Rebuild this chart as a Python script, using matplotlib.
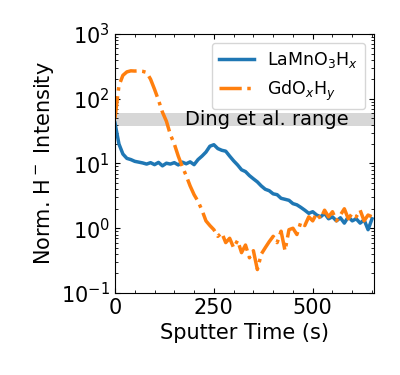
import matplotlib
matplotlib.use("Agg")
import matplotlib.pyplot as plt
from matplotlib.ticker import MultipleLocator, LogLocator

t_la = list(range(0, 660, 10))
la = [42, 20, 14, 12, 11.5, 10.8, 10.5, 10.2, 9.8, 10.3,
      9.6, 10.4, 9.2, 10.1, 9.8, 10.3, 9.5, 10.5, 9.9, 10.6,
      9.6, 11.5, 13, 15, 18.5, 19.5, 17, 16, 15.5, 13,
      11, 9.5, 8, 7.5, 6.5, 5.8, 5.2, 4.5, 4.0, 3.8,
      3.4, 3.3, 2.9, 2.8, 2.7, 2.4, 2.3, 2.1, 1.9, 1.7,
      1.8, 1.6, 1.5, 1.7, 1.4, 1.5, 1.3, 1.45, 1.2, 1.5,
      1.3, 1.4, 1.2, 1.35, 0.95, 1.4]

t_gd = [0, 5] + list(range(10, 660, 10))
gd = [50, 90, 160, 230, 260, 270, 268, 270, 265, 255, 200,
      140, 95, 62, 45, 28, 20, 13, 9, 6.5, 4.5,
      3.3, 2.6, 1.9, 1.3, 1.1, 0.95, 0.75, 0.85, 0.6, 0.7,
      0.5, 0.65, 0.42, 0.55, 0.35, 0.45, 0.23, 0.4, 0.5, 0.62,
      0.75, 0.6, 0.9, 0.45, 0.95, 1.0, 0.8, 1.25, 1.1, 1.5,
      1.3, 1.7, 1.4, 1.9, 1.5, 1.8, 1.3, 1.6, 2.0, 1.4,
      1.7, 1.5, 1.9, 1.3, 1.6, 1.5]

ding_low, ding_high = 38, 60

fig = plt.figure(figsize=(4, 3.75), dpi=100)
ax = fig.add_axes([0.2875, 0.2187, 0.6475, 0.6906])
ax.axhspan(ding_low, ding_high, color='lightgray', alpha=0.9, lw=0, zorder=0)
ax.text(384, 48, 'Ding et al. range', fontsize=14, ha='center', va='center', zorder=1)
ax.plot(t_la, la, color='#1f77b4', lw=2.5, label='LaMnO$_3$H$_x$', zorder=2)
ax.plot(t_gd, gd, color='#ff7f0e', lw=2.5, ls='-.', label='GdO$_x$H$_y$', zorder=2)
ax.set_yscale('log')
ax.set_ylim(0.1, 1000)
ax.set_xlim(0, 655)
ax.xaxis.set_major_locator(MultipleLocator(250))
ax.xaxis.set_minor_locator(MultipleLocator(50))
ax.yaxis.set_minor_locator(LogLocator(base=10, subs=range(2, 10), numticks=20))
ax.tick_params(which='both', direction='in', top=True, right=True, labelsize=15)
ax.set_xlabel('Sputter Time (s)', fontsize=15)
ax.set_ylabel('Norm. H$^-$ Intensity', fontsize=15)
ax.legend(loc='upper right', fontsize=12.5)
fig.savefig('out.png', dpi=100)
